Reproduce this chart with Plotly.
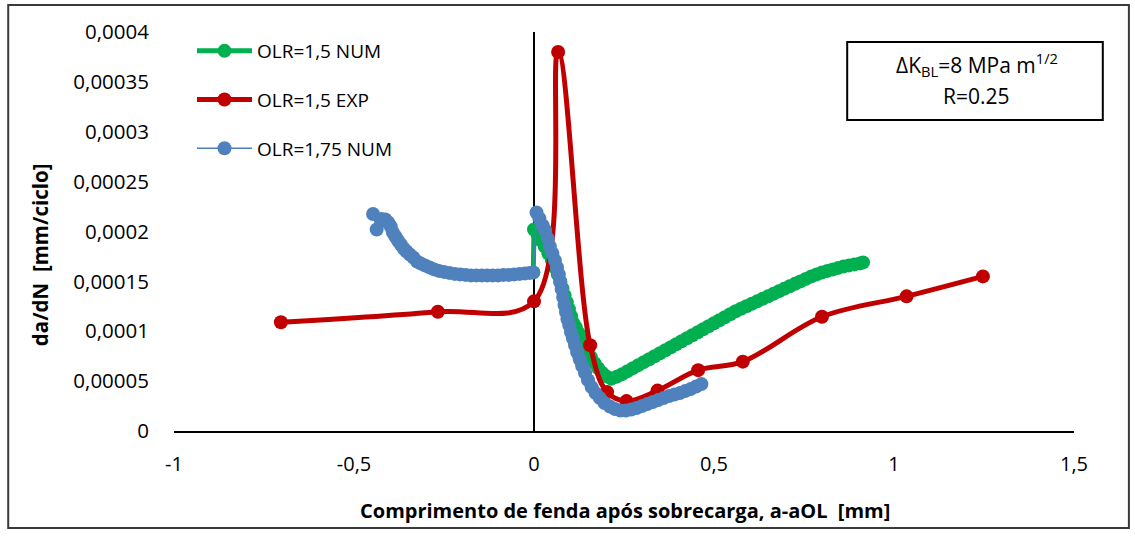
import plotly.graph_objects as go

# ---------------- data ----------------
# OLR=1,5 NUM (green) - x in mm, y in 1e-4 mm/ciclo
green_x = [-0.002, 0.000, 0.010, 0.020, 0.030, 0.040, 0.050, 0.058, 0.066, 0.073,
           0.079, 0.085, 0.091, 0.097, 0.103, 0.109, 0.116, 0.124, 0.132, 0.140,
           0.149, 0.158, 0.168, 0.178, 0.189, 0.200, 0.215, 0.230, 0.245, 0.260,
           0.275, 0.290, 0.305, 0.320, 0.335, 0.350, 0.365, 0.380, 0.395, 0.410,
           0.425, 0.440, 0.455, 0.470, 0.485, 0.500, 0.515, 0.530, 0.545, 0.560,
           0.575, 0.590, 0.605, 0.620, 0.635, 0.650, 0.665, 0.680, 0.695, 0.710,
           0.725, 0.740, 0.755, 0.770, 0.785, 0.800, 0.815, 0.830, 0.845, 0.860,
           0.875, 0.890, 0.905, 0.914]
green_y = [1.59, 2.02, 1.97, 1.91, 1.85, 1.78, 1.71, 1.64, 1.57, 1.50,
           1.43, 1.36, 1.29, 1.22, 1.15, 1.08, 1.04, 0.98, 0.92, 0.86,
           0.80, 0.74, 0.68, 0.63, 0.585, 0.55, 0.525, 0.545, 0.57, 0.60,
           0.63, 0.66, 0.69, 0.72, 0.75, 0.78, 0.81, 0.84, 0.87, 0.90,
           0.93, 0.96, 0.99, 1.02, 1.05, 1.08, 1.11, 1.14, 1.17, 1.20,
           1.225, 1.25, 1.275, 1.30, 1.325, 1.35, 1.375, 1.40, 1.425, 1.45,
           1.475, 1.50, 1.525, 1.55, 1.57, 1.59, 1.605, 1.62, 1.635, 1.65,
           1.66, 1.67, 1.68, 1.69]

# OLR=1,5 EXP (red)
red_x = [-0.703, -0.267, 0.000, 0.067, 0.156, 0.203, 0.257, 0.343, 0.456, 0.580,
         0.800, 1.035, 1.247]
red_y = [1.09, 1.195, 1.30, 3.80, 0.86, 0.39, 0.30, 0.405, 0.61, 0.695,
         1.145, 1.35, 1.55]

# OLR=1,75 NUM (blue)
blue_x = [-0.447, -0.437, -0.424, -0.413, -0.405, -0.398, -0.392, -0.385, -0.378, -0.370,
          -0.362, -0.354, -0.345, -0.335, -0.325, -0.315, -0.303, -0.290, -0.277, -0.264,
          -0.250, -0.235, -0.220, -0.205, -0.190, -0.175, -0.160, -0.145, -0.130, -0.115,
          -0.100, -0.085, -0.070, -0.055, -0.040, -0.025, -0.012, -0.002,
          0.007, 0.015, 0.024, 0.031, 0.038, 0.044, 0.051, 0.058, 0.064, 0.069,
          0.073, 0.077, 0.081, 0.085, 0.089, 0.093, 0.098, 0.103, 0.108, 0.114,
          0.120, 0.127, 0.134, 0.142, 0.150, 0.160, 0.171, 0.183, 0.196, 0.211,
          0.225, 0.240, 0.255, 0.270, 0.285, 0.300, 0.315, 0.330, 0.345, 0.360,
          0.375, 0.390, 0.405, 0.420, 0.435, 0.450, 0.465]
blue_y = [2.175, 2.02, 2.125, 2.12, 2.09, 2.05, 1.99, 1.95, 1.91, 1.87,
          1.83, 1.80, 1.77, 1.74, 1.70, 1.68, 1.66, 1.64, 1.62, 1.605,
          1.595, 1.585, 1.575, 1.57, 1.565, 1.56, 1.56, 1.56, 1.56, 1.56,
          1.56, 1.565, 1.565, 1.57, 1.575, 1.58, 1.585, 1.59,
          2.19, 2.13, 2.06, 2.01, 1.93, 1.85, 1.78, 1.71, 1.64, 1.57,
          1.49, 1.42, 1.34, 1.26, 1.19, 1.12, 1.06, 0.99, 0.93, 0.86,
          0.79, 0.72, 0.65, 0.58, 0.51, 0.44, 0.38, 0.33, 0.28, 0.245,
          0.22, 0.205, 0.205, 0.215, 0.23, 0.25, 0.27, 0.29, 0.31, 0.33,
          0.35, 0.365, 0.38, 0.40, 0.42, 0.445, 0.47]

series_names = ["OLR=1,5 NUM", "OLR=1,5 EXP", "OLR=1,75 NUM"]

x_tickvals = [-1, -0.5, 0, 0.5, 1, 1.5]
x_ticktext = ["-1", "-0,5", "0", "0,5", "1", "1,5"]
y_tickvals = [0, 0.00005, 0.0001, 0.00015, 0.0002, 0.00025, 0.0003, 0.00035, 0.0004]
y_ticktext = ["0", "0,00005", "0,0001", "0,00015", "0,0002", "0,00025", "0,0003", "0,00035", "0,0004"]

x_title = "Comprimento de fenda após sobrecarga, a-aOL  [mm]"
y_title = "da/dN  [mm/ciclo]"
box_line1 = "ΔK<sub>BL</sub>=8 MPa m<sup>1/2</sup>"
box_line2 = "R=0.25"

SCALE = 1e-4
FONT = "Open Sans"

fig = go.Figure()
fig.add_trace(go.Scatter(
    x=green_x, y=[v * SCALE for v in green_y], name=series_names[0],
    mode="lines+markers", legendgroup="g1",
    line=dict(color="#00B050", width=5),
    marker=dict(color="#00B050", size=14, symbol="circle")))
fig.add_trace(go.Scatter(
    x=red_x, y=[v * SCALE for v in red_y], name=series_names[1],
    mode="lines+markers", legendgroup="g2",
    line=dict(color="#C00000", width=5, shape="spline", smoothing=1.0),
    marker=dict(color="#C00000", size=14, symbol="circle")))
fig.add_trace(go.Scatter(
    x=blue_x, y=[v * SCALE for v in blue_y], name=series_names[2],
    mode="lines+markers", legendgroup="g3",
    line=dict(color="#4A7EBB", width=1.5),
    marker=dict(color="#4F81BD", size=14, symbol="circle")))

fig.update_layout(
    width=1135, height=536,
    margin=dict(l=174, r=61, t=32, b=105),
    paper_bgcolor="white", plot_bgcolor="white",
    font=dict(family=FONT, size=19, color="#000000"),
    showlegend=True,
    legend=dict(x=0.02, y=1.0, xanchor="left", yanchor="top",
                bgcolor="rgba(0,0,0,0)", borderwidth=0,
                font=dict(family=FONT, size=19, color="#000000"),
                traceorder="grouped", tracegroupgap=21, itemwidth=55),
    xaxis=dict(range=[-1, 1.5], tickvals=x_tickvals, ticktext=x_ticktext,
               showgrid=False, zeroline=True, zerolinecolor="#000000", zerolinewidth=1.5,
               showline=True, linecolor="#000000", linewidth=2, ticks="",
               ticklabelstandoff=14, tickfont=dict(family=FONT, size=20)),
    yaxis=dict(range=[0, 0.0004], tickvals=y_tickvals, ticktext=y_ticktext,
               showgrid=False, zeroline=False, showline=False, ticks="",
               ticklabelstandoff=24, tickfont=dict(family=FONT, size=20.5)),
    shapes=[
        dict(type="rect", xref="paper", yref="paper",
             x0=-0.1842, x1=1.0610, y0=-0.2431, y1=1.0677,
             line=dict(color="#3A3A3A", width=2), fillcolor="rgba(0,0,0,0)", layer="below"),
        dict(type="rect", xref="paper", yref="paper",
             x0=0.748, x1=1.032, y0=0.7794, y1=0.975,
             line=dict(color="#000000", width=2), fillcolor="white"),
    ],
    annotations=[
        dict(text=box_line1, xref="paper", yref="paper", x=0.892, y=0.9195,
             xanchor="center", yanchor="middle", showarrow=False, align="center",
             font=dict(family=FONT, size=21, color="#000000")),
        dict(text=box_line2, xref="paper", yref="paper", x=0.892, y=0.8396,
             xanchor="center", yanchor="middle", showarrow=False, align="center",
             font=dict(family=FONT, size=21, color="#000000")),
        dict(text="<b>" + x_title + "</b>", xref="paper", yref="paper",
             x=0.5006, y=-0.2005, xanchor="center", yanchor="middle", showarrow=False,
             font=dict(family=FONT, size=20, color="#000000")),
        dict(text="<b>" + y_title + "</b>", xref="paper", yref="paper",
             x=-0.1487, y=0.441, xanchor="center", yanchor="middle", showarrow=False,
             textangle=-90, font=dict(family=FONT, size=20.5, color="#000000")),
    ],
)

fig.write_html("out.html")
